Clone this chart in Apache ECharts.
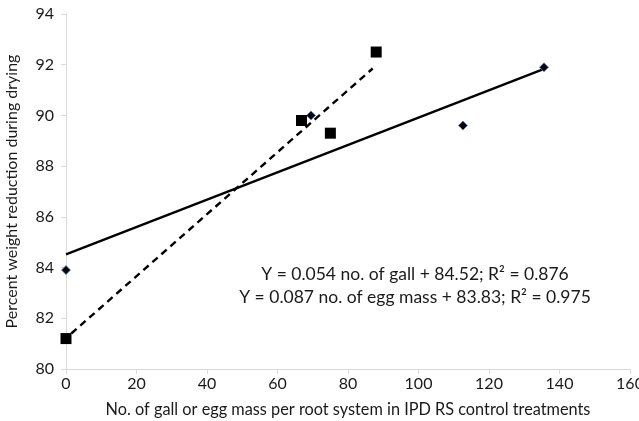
<!DOCTYPE html>
<html>
<head>
    <meta charset="utf-8">
    <title>chart</title>
    <style>
        html, body { margin: 0; padding: 0; background: #fff; }
        #main { width: 639px; height: 421px; }
    </style>
    <script src="https://cdn.jsdelivr.net/npm/echarts@6/dist/echarts.min.js"></script>
</head>
<body>
<div id="main"></div>
<script>
    // gall counts (diamonds) and egg mass counts (squares)
    let gallX = [0, 69.5, 112.6, 135.6];
    let gallY = [83.9, 90.0, 89.6, 91.9];
    let eggX = [0, 66.8, 75, 88];
    let eggY = [81.2, 89.8, 89.3, 92.5];

    // trend lines as drawn
    let gallLine = [[0, 84.52], [136, 91.86]];
    let eggLine = [[1.5, 81.4], [87, 91.85]];

    let xTicks = [0, 20, 40, 60, 80, 100, 120, 140, 160];
    let yTicks = [80, 82, 84, 86, 88, 90, 92, 94];

    let eq1 = 'Y = 0.054 no. of gall + 84.52; R\u00b2 = 0.876';
    let eq2 = 'Y = 0.087 no. of egg mass + 83.83; R\u00b2 = 0.975';

    let font = 'Lato, "Open Sans", sans-serif';

    let chart = echarts.init(document.getElementById('main'));
    chart.setOption({
        animation: false,
        grid: {left: 66, right: 9, top: 14, bottom: 52, outerBoundsMode: 'none', containLabel: false},
        xAxis: {
            type: 'value',
            min: xTicks[0], max: xTicks[xTicks.length - 1], interval: 20,
            name: 'No. of gall or egg mass per root system in IPD RS control treatments',
            nameLocation: 'middle', nameGap: 33,
            nameTextStyle: {fontFamily: font, fontSize: 16.3, color: '#1a1a1a'},
            axisLine: {lineStyle: {color: '#d9d9d9'}},
            axisTick: {show: true, length: 5, lineStyle: {color: '#d9d9d9'}},
            axisLabel: {fontFamily: font, fontSize: 16, color: '#1a1a1a', margin: 7},
            splitLine: {show: false}
        },
        yAxis: {
            type: 'value',
            min: yTicks[0], max: yTicks[yTicks.length - 1], interval: 2,
            name: 'Percent weight reduction during drying',
            nameLocation: 'middle', nameGap: 46,
            nameTextStyle: {fontFamily: font, fontSize: 16, color: '#1a1a1a'},
            axisLine: {show: true, lineStyle: {color: '#d9d9d9'}},
            axisTick: {show: true, length: 5, lineStyle: {color: '#d9d9d9'}},
            axisLabel: {fontFamily: font, fontSize: 16, color: '#1a1a1a', margin: 12},
            splitLine: {show: false}
        },
        series: [
            {
                type: 'line', data: gallLine, symbol: 'none',
                lineStyle: {color: '#000', width: 2.4, type: 'solid'}, z: 2
            },
            {
                type: 'line', data: eggLine, symbol: 'none',
                lineStyle: {color: '#000', width: 2.4, type: [7, 5]}, z: 2
            },
            {
                type: 'scatter', data: gallX.map((x, i) => [x, gallY[i]]),
                symbol: 'diamond', symbolSize: 9,
                itemStyle: {color: '#05050f', borderColor: '#5a7fb0', borderWidth: 0.8, opacity: 1}, z: 3
            },
            {
                type: 'scatter', data: eggX.map((x, i) => [x, eggY[i]]),
                symbol: 'rect', symbolSize: 11,
                itemStyle: {color: '#000', opacity: 1}, z: 3
            }
        ],
        graphic: [
            {
                type: 'text', x: 415, y: 274,
                style: {text: eq1, font: '17.5px ' + font, fill: '#1a1a1a',
                        align: 'center', verticalAlign: 'middle'}
            },
            {
                type: 'text', x: 415, y: 297,
                style: {text: eq2, font: '17.5px ' + font, fill: '#1a1a1a',
                        align: 'center', verticalAlign: 'middle'}
            }
        ]
    });
</script>
</body>
</html>
